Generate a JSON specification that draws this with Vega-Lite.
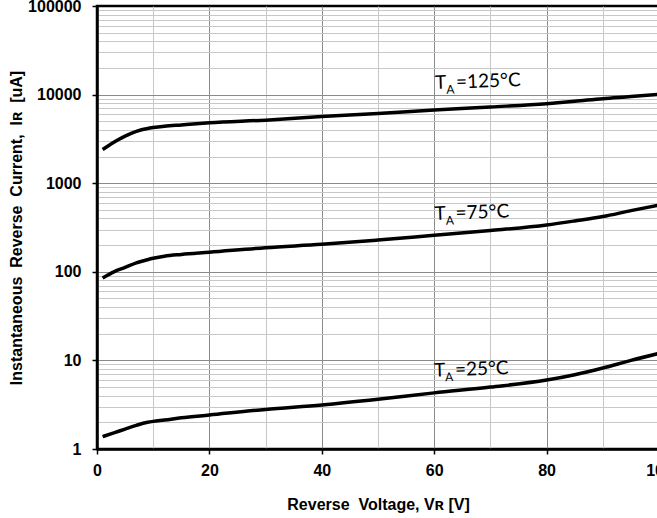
{
  "$schema": "https://vega.github.io/schema/vega-lite/v6.json",
  "width": 562,
  "height": 443,
  "autosize": {"type": "none"},
  "padding": {"left": 97, "top": 6, "right": 0, "bottom": 69},
  "background": "white",
  "config": {
    "view": {"stroke": "black", "strokeWidth": 2.5},
    "axis": {
      "labelFont": "Liberation Sans",
      "labelFontWeight": "bold",
      "labelFontSize": 16,
      "labelColor": "black",
      "titleFont": "Liberation Sans",
      "titleFontWeight": "bold",
      "titleColor": "black",
      "domainColor": "black",
      "domainWidth": 2.5,
      "tickColor": "black",
      "tickWidth": 1.5,
      "tickSize": 5
    }
  },
  "datasets": {
    "curves": [
      {"v": 1, "i": 2400, "t": "125"}, {"v": 3, "i": 2900, "t": "125"}, {"v": 5, "i": 3400, "t": "125"}, {"v": 7, "i": 3850, "t": "125"}, {"v": 9, "i": 4150, "t": "125"}, {"v": 10, "i": 4250, "t": "125"}, {"v": 12, "i": 4400, "t": "125"}, {"v": 15, "i": 4550, "t": "125"}, {"v": 20, "i": 4800, "t": "125"}, {"v": 30, "i": 5150, "t": "125"}, {"v": 40, "i": 5650, "t": "125"}, {"v": 50, "i": 6100, "t": "125"}, {"v": 60, "i": 6700, "t": "125"}, {"v": 70, "i": 7250, "t": "125"}, {"v": 80, "i": 7900, "t": "125"}, {"v": 85, "i": 8400, "t": "125"}, {"v": 90, "i": 9000, "t": "125"}, {"v": 95, "i": 9500, "t": "125"}, {"v": 100, "i": 10100, "t": "125"},
      {"v": 1, "i": 85, "t": "75"}, {"v": 3, "i": 100, "t": "75"}, {"v": 5, "i": 112, "t": "75"}, {"v": 7, "i": 126, "t": "75"}, {"v": 9, "i": 137, "t": "75"}, {"v": 10, "i": 142, "t": "75"}, {"v": 12, "i": 150, "t": "75"}, {"v": 15, "i": 157, "t": "75"}, {"v": 20, "i": 166, "t": "75"}, {"v": 30, "i": 187, "t": "75"}, {"v": 40, "i": 204, "t": "75"}, {"v": 50, "i": 228, "t": "75"}, {"v": 60, "i": 258, "t": "75"}, {"v": 70, "i": 292, "t": "75"}, {"v": 80, "i": 338, "t": "75"}, {"v": 85, "i": 375, "t": "75"}, {"v": 90, "i": 420, "t": "75"}, {"v": 95, "i": 490, "t": "75"}, {"v": 100, "i": 565, "t": "75"},
      {"v": 1, "i": 1.38, "t": "25"}, {"v": 3, "i": 1.52, "t": "25"}, {"v": 5, "i": 1.68, "t": "25"}, {"v": 7, "i": 1.85, "t": "25"}, {"v": 9, "i": 2.0, "t": "25"}, {"v": 10, "i": 2.05, "t": "25"}, {"v": 12, "i": 2.12, "t": "25"}, {"v": 15, "i": 2.25, "t": "25"}, {"v": 20, "i": 2.42, "t": "25"}, {"v": 30, "i": 2.8, "t": "25"}, {"v": 40, "i": 3.14, "t": "25"}, {"v": 50, "i": 3.64, "t": "25"}, {"v": 60, "i": 4.3, "t": "25"}, {"v": 70, "i": 5.0, "t": "25"}, {"v": 80, "i": 6.0, "t": "25"}, {"v": 85, "i": 6.9, "t": "25"}, {"v": 90, "i": 8.2, "t": "25"}, {"v": 95, "i": 10.0, "t": "25"}, {"v": 100, "i": 12.0, "t": "25"}
    ],
    "labels": [
      {"v": 60.2, "i": 11560, "t": "T", "s": "A", "r": "=125°C"},
      {"v": 60.1, "i": 384, "t": "T", "s": "A", "r": "=75°C"},
      {"v": 60.0, "i": 6.55, "t": "T", "s": "A", "r": "=25°C"}
    ]
  },
  "layer": [
    {
      "data": {"name": "curves"},
      "mark": {"type": "line", "color": "black", "strokeWidth": 3.5, "interpolate": "monotone"},
      "encoding": {
        "x": {
          "field": "v", "type": "quantitative",
          "scale": {"domain": [0, 100], "nice": false, "zero": false},
          "axis": {"orient": "top", "values": [10, 30, 50, 70, 90], "labels": false, "ticks": false, "domain": false, "title": null, "grid": true, "gridColor": "#c8c8c8", "gridWidth": 1}
        },
        "y": {
          "field": "i", "type": "quantitative",
          "scale": {"type": "log", "domain": [1, 100000], "nice": false},
          "axis": {"orient": "right", "values": [2, 3, 4, 5, 6, 7, 8, 9, 20, 30, 40, 50, 60, 70, 80, 90, 200, 300, 400, 500, 600, 700, 800, 900, 2000, 3000, 4000, 5000, 6000, 7000, 8000, 9000, 20000, 30000, 40000, 50000, 60000, 70000, 80000, 90000], "labels": false, "ticks": false, "domain": false, "title": null, "grid": true, "gridColor": "#c8c8c8", "gridWidth": 1}
        },
        "detail": {"field": "t"}
      }
    },
    {
      "data": {"name": "labels"},
      "mark": {"type": "text", "font": "Lato", "fontSize": 19, "align": "left", "baseline": "alphabetic", "angle": 358, "color": "black"},
      "encoding": {
        "x": {
          "field": "v", "type": "quantitative",
          "axis": {"orient": "bottom", "values": [0, 20, 40, 60, 80, 100], "format": "d", "grid": true, "gridColor": {"condition": {"test": "datum.value == 0 || datum.value == 100", "value": "transparent"}, "value": "#8a8a8a"}, "gridWidth": 1, "labelPadding": 8, "labelFlush": false, "title": "Reverse\u00a0 Voltage, V\u0280 [V]", "titleFontSize": 16, "titlePadding": 18}
        },
        "y": {
          "field": "i", "type": "quantitative",
          "axis": {"orient": "left", "values": [1, 10, 100, 1000, 10000, 100000], "format": "d", "grid": true, "gridColor": {"condition": {"test": "datum.value == 1 || datum.value == 100000", "value": "transparent"}, "value": "#8a8a8a"}, "gridWidth": 1, "labelPadding": 11, "labelFlush": false, "title": "Instantaneous\u00a0 Reverse\u00a0 Current,\u00a0 I\u0280\u00a0 [uA]", "titleFontSize": 16, "titlePadding": 3}
        },
        "text": {"field": "t"}
      }
    },
    {
      "data": {"name": "labels"},
      "mark": {"type": "text", "font": "Lato", "fontSize": 12, "align": "left", "baseline": "alphabetic", "angle": 358, "dx": 11, "dy": 5, "color": "black"},
      "encoding": {
        "x": {"field": "v", "type": "quantitative", "axis": null},
        "y": {"field": "i", "type": "quantitative", "axis": null},
        "text": {"field": "s"}
      }
    },
    {
      "data": {"name": "labels"},
      "mark": {"type": "text", "font": "Lato", "fontSize": 19, "align": "left", "baseline": "alphabetic", "angle": 358, "dx": 21, "color": "black"},
      "encoding": {
        "x": {"field": "v", "type": "quantitative", "axis": null},
        "y": {"field": "i", "type": "quantitative", "axis": null},
        "text": {"field": "r"}
      }
    }
  ],
  "resolve": {"axis": {"x": "independent", "y": "independent"}}
}
